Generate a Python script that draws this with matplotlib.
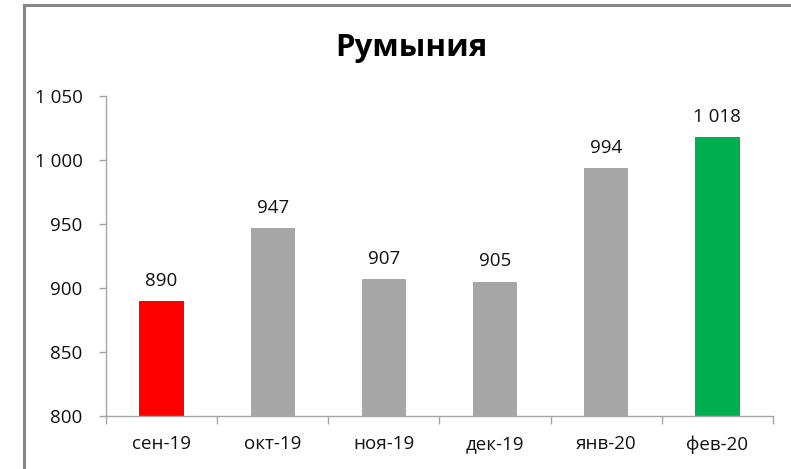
import matplotlib.pyplot as plt
from matplotlib.patches import Rectangle
from matplotlib.ticker import FuncFormatter, FixedLocator

months = ['сен-19', 'окт-19', 'ноя-19', 'дек-19', 'янв-20', 'фев-20']
values = [890, 947, 907, 905, 994, 1018]
colors = ['#FF0000', '#A6A6A6', '#A6A6A6', '#A6A6A6', '#A6A6A6', '#00B050']
yticks = [800, 850, 900, 950, 1000, 1050]

plt.rcParams['font.family'] = ['Open Sans', 'DejaVu Sans']


def fmt(v, pos=None):
    return '{:,}'.format(int(v)).replace(',', ' ')


fig = plt.figure(figsize=(7.91, 4.69), dpi=100)
ax = fig.add_axes([106 / 791, 1 - 416 / 469, 667 / 791, 320 / 469])

# outer chart frame (only left and top edges visible in the crop)
fig.patches.append(Rectangle((24 / 791, -0.1), 1.2, 1 - 5 / 469 + 0.1,
                             transform=fig.transFigure, fill=False,
                             edgecolor='#868686', linewidth=2.2))

x = range(len(months))
bars = ax.bar(x, [v - 800 for v in values], bottom=800, width=0.4, color=colors)

for xi, v in zip(x, values):
    ax.annotate(fmt(v), (xi, v), xytext=(0, 8), textcoords='offset points',
                ha='center', va='bottom', fontsize=13.5, color='#111111')

ax.set_xlim(-0.5, 5.5)
ax.set_ylim(800, 1050)
ax.set_yticks(yticks)
ax.yaxis.set_major_formatter(FuncFormatter(fmt))
ax.set_xticks(list(x))
ax.set_xticklabels(months)
ax.xaxis.set_minor_locator(FixedLocator([i - 0.5 for i in range(len(months) + 1)]))
ax.tick_params(axis='x', which='major', length=0, pad=14, labelsize=13.5, labelcolor='#111111')
ax.tick_params(axis='x', which='minor', length=6, color='#A6A6A6', width=1)
ax.tick_params(axis='y', length=5, color='#A6A6A6', width=1, pad=12, labelsize=13.5, labelcolor='#111111')

for s in ['top', 'right']:
    ax.spines[s].set_visible(False)
for s in ['left', 'bottom']:
    ax.spines[s].set_color('#A6A6A6')
    ax.spines[s].set_linewidth(1)

fig.text(411 / 791, 1 - 48 / 469, 'Румыния', ha='center', va='center',
         fontsize=22.5, fontweight='bold', color='#000000')

fig.savefig('out.png', dpi=100)
